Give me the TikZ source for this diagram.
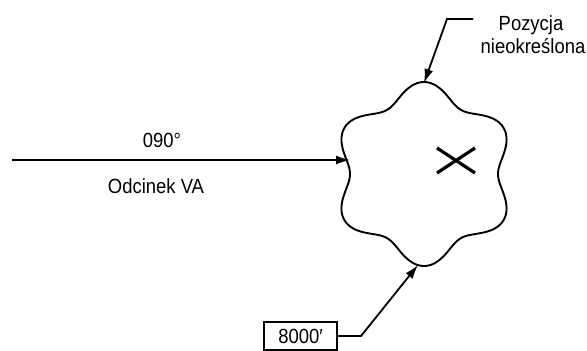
\documentclass[tikz,border=0pt]{standalone}
\usepackage{fontspec}
\setmainfont{Liberation Sans}
\newfontfamily\labfont[FakeStretch=0.9]{Liberation Sans}
\usetikzlibrary{arrows.meta}
\begin{document}
\begin{tikzpicture}[x=1pt,y=-1pt,
  lbl/.style={inner sep=0pt,anchor=base,font=\labfont\fontsize{20.5}{24}\selectfont},
  arr/.style={line width=1.8pt,-{Latex[length=14pt,width=9pt]}},
  outline/.style={line width=1.9pt,line join=round}]
\useasboundingbox (0,0) rectangle (587,351);
% blob
\draw[outline] plot[domain=0:360,samples=241,smooth]
  ({424+(83-9*cos(6*\x))*cos(\x)},{174-(83-9*cos(6*\x))*sin(\x)}) -- cycle;
% cross
\draw[line width=3.2pt] (437,148) coordinate (xa) -- (475,173) coordinate (xb);
\draw[line width=3.2pt] (437,173) coordinate (xc) -- (475,148) coordinate (xd);
% left arrow
\coordinate (start) at (12,160);
\coordinate (leftin) at (350,160);
\draw[arr] (start) -- (leftin);
\node[lbl] (hdg) at (162,147) {090°};
\node[lbl] (seg) at (156,193) {Odcinek VA};
% top label
\node[lbl] (poz) at (531,30) {Pozycja};
\node[lbl] (nie) at (533,53) {nieokreślona};
\coordinate (topend) at (473,19);
\coordinate (topknee) at (447,19);
\coordinate (toptip) at (424,83);
\draw[arr] (topend) -- (topknee) -- (toptip);
% bottom box
\node[draw,line width=1.5pt,minimum width=73pt,minimum height=28pt,inner sep=0pt,
      font=\labfont\fontsize{20.5}{24}\selectfont] (box) at (300.5,336) {8000′};
\coordinate (botknee) at (361,336);
\coordinate (bottip) at (418,265);
\draw[arr] (box.east) -- (botknee) -- (bottip);
\end{tikzpicture}
\end{document}
